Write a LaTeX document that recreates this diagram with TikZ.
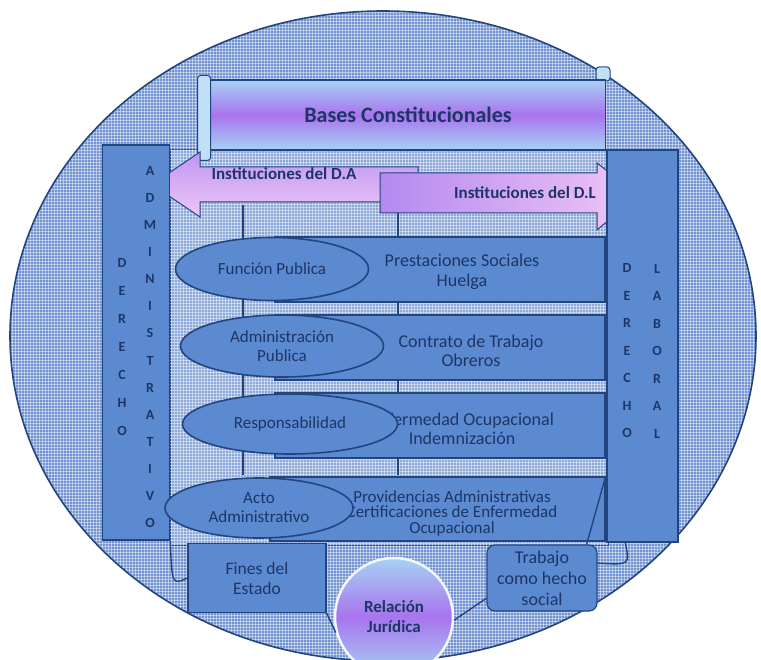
\documentclass[tikz,border=0pt]{standalone}
\usepackage{fontspec}
\setmainfont{Carlito}
\usetikzlibrary{shapes.geometric,patterns}
\definecolor{fondo}{HTML}{7193D1}
\definecolor{caja}{HTML}{5B8AD1}
\definecolor{borde}{HTML}{23457F}
\definecolor{tinta}{HTML}{1D3667}
\definecolor{celeste}{HTML}{A6D2F4}
\definecolor{lila}{HTML}{A874EE}
\definecolor{rosa}{HTML}{EFC6F6}
\tikzset{
	fila/.style={rectangle,draw=borde,line width=1.2pt,fill=caja,inner sep=0pt},
	elipse/.style={ellipse,draw=borde,line width=1.6pt,fill=caja,text=tinta,align=center,inner sep=0pt,font=\fontsize{17}{19}\selectfont},
	rotulo/.style={text=tinta,align=center,inner sep=0pt,font=\fontsize{18}{#1}\selectfont},
	rotulo/.default=19,
	barra/.style={rectangle,draw=borde,line width=1.6pt,fill=caja,inner sep=0pt},
	letras/.style={text=tinta,align=center,inner sep=0pt,font=\bfseries\fontsize{14}{#1}\selectfont},
	titulo/.style={text=tinta,inner sep=0pt,font=\bfseries\fontsize{17}{19}\selectfont},
	rollo/.style={rectangle,rounded corners=3pt,draw=borde,line width=1pt,fill=celeste!70!white,inner sep=0pt},
	linea/.style={draw=borde,line width=1.4pt},
	tela/.style={pattern=grid,pattern color=white,opacity=0.45}
}
\begin{document}
\begin{tikzpicture}[x=1pt,y=-1pt]
	\useasboundingbox (0,0) rectangle (761,660);
	\fill[white] (0,0) rectangle (761,660);
	\path[fill=fondo] (383,336) ellipse [x radius=373pt,y radius=325pt];
	\path[tela] (383,336) ellipse [x radius=373pt,y radius=325pt];
	\draw[borde,line width=1.6pt] (383,336) ellipse [x radius=373pt,y radius=325pt];

	\draw[borde,line width=1pt,fill=fondo!80!white] (170,150) rectangle (608,545);
	\path[tela] (170,150) rectangle (608,545);
	\draw[borde,line width=1.4pt] (243,205) -- (243,475) (398,205) -- (398,475);

	\node[rollo,minimum width=14pt,minimum height=14pt] (rolloD) at (603,74) {};
	\node[rectangle,draw=borde,line width=1.2pt,top color=celeste,bottom color=celeste,middle color=lila,
		minimum width=395pt,minimum height=70pt,text=tinta,font=\bfseries\fontsize{22}{24}\selectfont] (bases) at (408,115) {Bases Constitucionales};
	\node[rollo,minimum width=13pt,minimum height=85pt] (rolloI) at (204,118) {};

	\draw[borde,line width=1pt,top color=lila!75!white,bottom color=rosa]
		(418,167) -- (200,167) -- (200,152) -- (152,184.5) -- (200,217) -- (200,202) -- (418,202) -- cycle;
	\node[titulo] (instA) at (284,174) {Instituciones del D.A};
	\draw[borde,line width=1pt,left color=lila!85!white,right color=rosa]
		(380,173) -- (597,173) -- (597,163) -- (638,195) -- (597,230) -- (597,213) -- (380,213) -- cycle;
	\node[titulo] (instL) at (525,193) {Instituciones del D.L};

	\node[barra,minimum width=67pt,minimum height=395pt] (barraA) at (136,342.5) {};
	\node[letras=28] (derA) at (122,347) {D\\E\\R\\E\\C\\H\\O};
	\node[letras=27.1] (admin) at (150,347) {A\\D\\M\\I\\N\\I\\S\\T\\R\\A\\T\\I\\V\\O};
	\node[barra,minimum width=71pt,minimum height=392pt] (barraL) at (642.5,346) {};
	\node[letras=27.5] (derL) at (627,351) {D\\E\\R\\E\\C\\H\\O};
	\node[letras=27.5] (labor) at (657,351) {L\\A\\B\\O\\R\\A\\L};

	\node[fila,minimum width=330pt,minimum height=65pt] (fila1) at (440,269.5) {};
	\node[fila,minimum width=330pt,minimum height=65pt] (fila2) at (440,347.5) {};
	\node[fila,minimum width=330pt,minimum height=65pt] (fila3) at (440,425.5) {};
	\node[fila,minimum width=335pt,minimum height=64pt] (fila4) at (437.5,509) {};
	\node[rotulo=20] (prest) at (462,272) {Prestaciones Sociales\\Huelga};
	\node[rotulo] (contr) at (471,351) {Contrato de Trabajo\\Obreros};
	\node[rotulo] (enfer) at (462,429) {Enfermedad Ocupacional\\Indemnización};
	\node[rotulo=15.5,font=\fontsize{17}{15.5}\selectfont] (provi) at (452,513) {Providencias Administrativas\\Certificaciones de Enfermedad\\Ocupacional};

	\node[elipse,minimum width=193pt,minimum height=63pt] (funcion) at (272,269) {Función Publica};
	\node[elipse,minimum width=203pt,minimum height=62pt] (adminp) at (282,346) {Administración\\Publica};
	\node[elipse,minimum width=215pt,minimum height=60pt] (respon) at (290,424) {Responsabilidad};
	\node[elipse,minimum width=188pt,minimum height=60pt] (acto) at (259,508) {Acto\\Administrativo};

	\node[fila,minimum width=138pt,minimum height=69pt,text=tinta,align=center,font=\fontsize{17.5}{20}\selectfont] (fines) at (257,578) {Fines del\\Estado};
	\node[fila,rounded corners=8pt,minimum width=110pt,minimum height=66pt,text=tinta,align=center,font=\fontsize{18}{21}\selectfont] (trabajo) at (542,578) {Trabajo\\como hecho\\social};
	\node[circle,draw=white!85!celeste,line width=2.5pt,top color=celeste,bottom color=celeste,middle color=lila,
		minimum size=118pt,inner sep=0pt,text=tinta,align=center,font=\bfseries\fontsize{17}{20}\selectfont] (relacion) at (394,617) {Relación\\Jurídica};

	\draw[linea] (barraA.south east) .. controls (172,585) .. (fines.west);
	\draw[linea] (fines.south east) -- (relacion.195);
	\draw[linea] (fila4.north east) -- (trabajo.37);
	\draw[linea] (trabajo.200) -- (relacion.-3);
	\draw[linea] (barraL.-95) .. controls (630,565) .. (trabajo.15);
\end{tikzpicture}
\end{document}
